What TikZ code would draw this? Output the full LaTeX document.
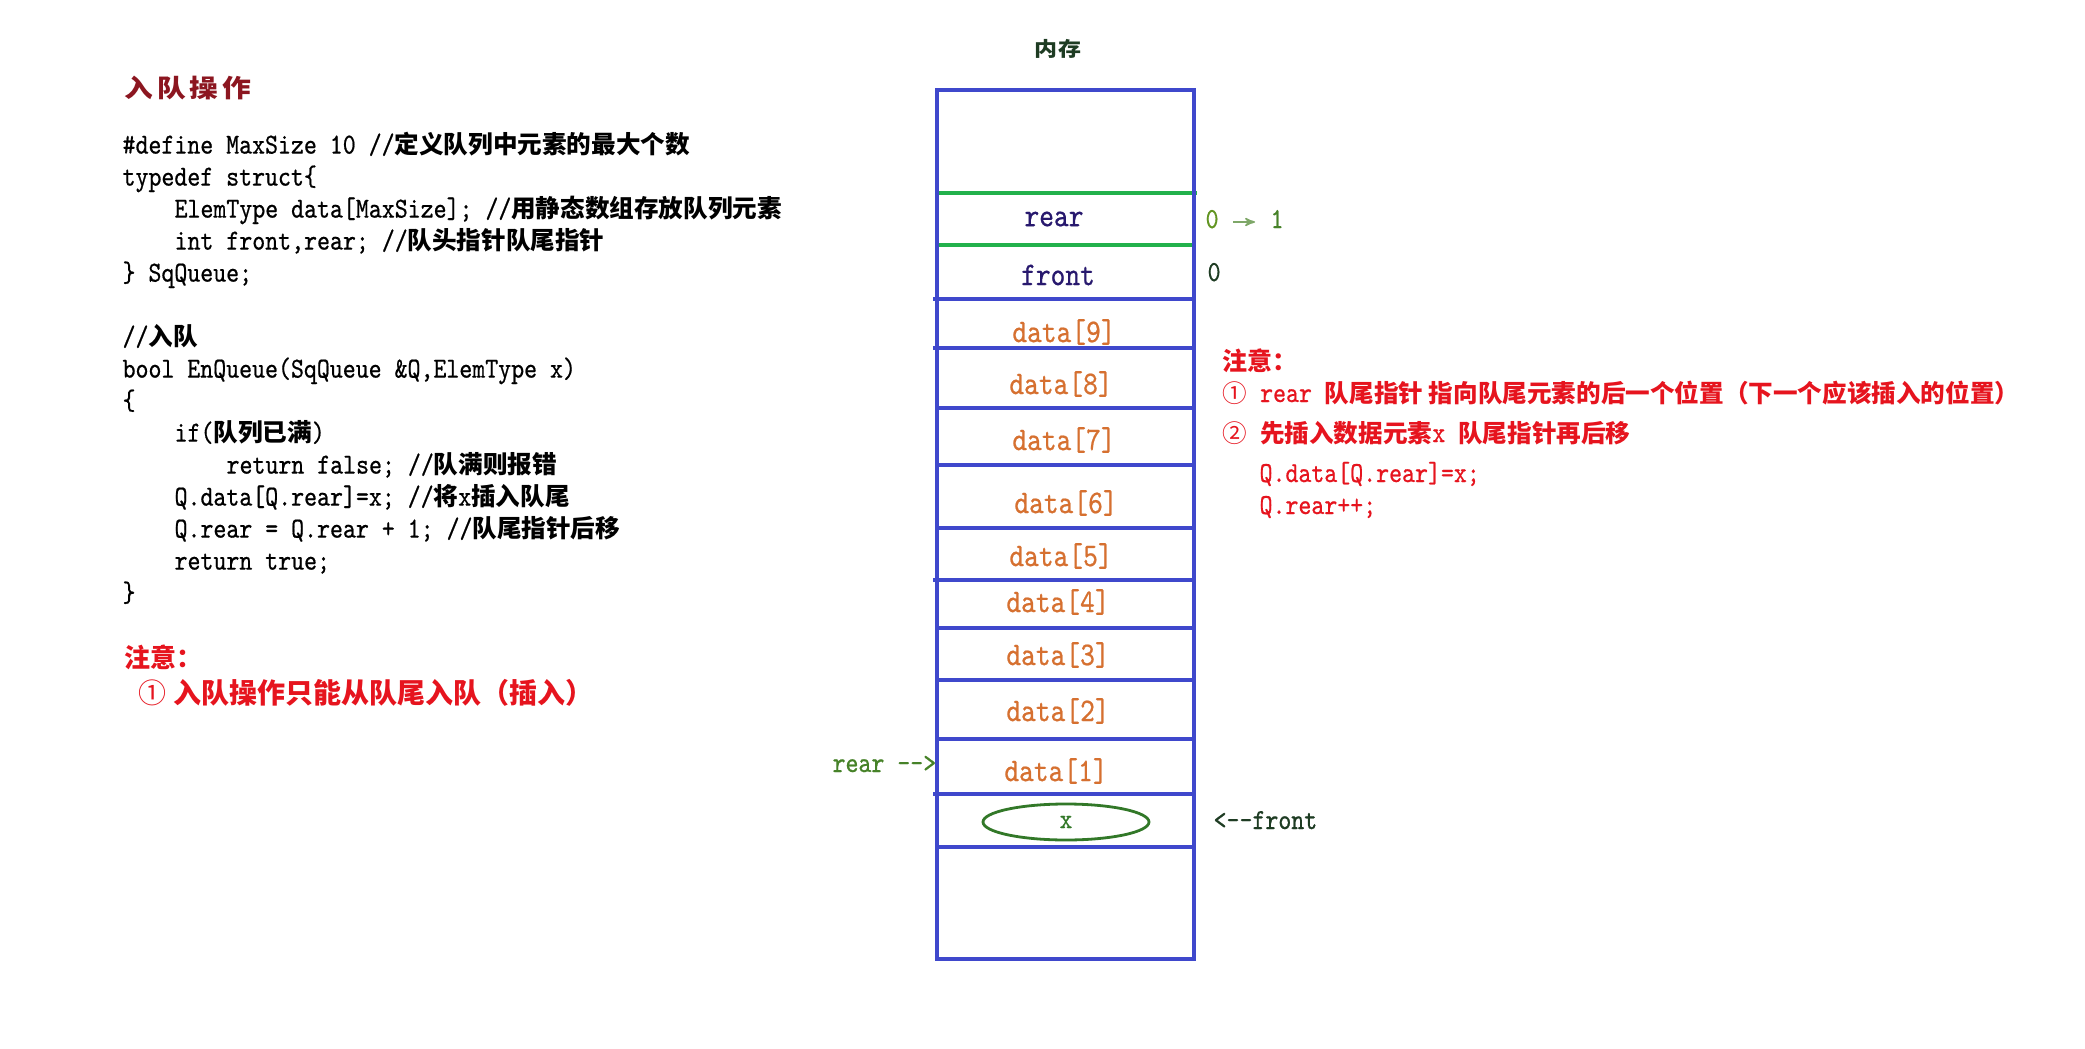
\documentclass[tikz,border=0pt]{standalone}
\usepackage{fontspec}
\usepackage{tikz}
\usetikzlibrary{arrows,shapes.geometric,positioning}
\newfontfamily\cjk{Noto Sans CJK SC}
\newfontfamily\codett{lmmono10-regular}[Extension=.otf,FakeStretch=0.85,Scale=1.18,FakeBold=0.6]
\newcommand{\zhb}[1]{{\cjk\bfseries #1}}
\definecolor{titlered}{RGB}{140,22,32}
\definecolor{notered}{RGB}{230,20,30}
\definecolor{memblue}{RGB}{63,72,204}
\definecolor{memgreen}{RGB}{34,177,76}
\definecolor{ptrink}{RGB}{40,25,110}
\definecolor{dataorange}{RGB}{214,112,48}
\definecolor{markgreen}{RGB}{70,130,40}
\definecolor{darkgreen}{RGB}{30,60,35}
\definecolor{ovalgreen}{RGB}{50,120,40}

\begin{document}
\begin{tikzpicture}[x=0.5pt,y=-0.5pt,>=stealth',semithick]
\tikzstyle{code}=[anchor=west,inner sep=0pt,font=\fontsize{12.3pt}{14pt}\codett,text height=9pt,text depth=3pt]
\tikzstyle{note}=[code,text=notered]
\tikzstyle{cell}=[inner sep=0pt,font=\fontsize{14pt}{16pt}\codett]
\tikzstyle{sep}=[draw=memblue,line width=1.6pt]
\tikzstyle{greensep}=[draw=memgreen,line width=1.6pt]

\useasboundingbox (0,0) rectangle (2085,1049);
\fill[white] (0,0) rectangle (2085,1049);

        % left: code
        \node[anchor=west,inner sep=0pt,text=titlered,font=\fontsize{12.5pt}{14pt}\cjk\bfseries\addfontfeature{FakeStretch=1.15,LetterSpace=15}] (title) at (124,88) {入队操作};

        \node[code] (l1)  at (122,147.6) {\#define MaxSize 10 //\zhb{定义队列中元素的最大个数}};
        \node[code] (l2)  at (122,179.6) {typedef struct\{};
        \node[code] (l3)  at (174,211.6) {ElemType data[MaxSize]; //\zhb{用静态数组存放队列元素}};
        \node[code] (l4)  at (174,243.6) {int front,rear; //\zhb{队头指针队尾指针}};
        \node[code] (l5)  at (122,275.6) {\} SqQueue;};

        \node[code] (l6)  at (122,339.6) {//\zhb{入队}};
        \node[code] (l7)  at (122,371.6) {bool EnQueue(SqQueue \&Q,ElemType x)};
        \node[code] (l8)  at (122,403.6) {\{};
        \node[code] (l9)  at (174,435.6) {if(\zhb{队列已满})};
        \node[code] (l10) at (226,467.6) {return false; //\zhb{队满则报错}};
        \node[code] (l11) at (174,499.6) {Q.data[Q.rear]=x; //\zhb{将}x\zhb{插入队尾}};
        \node[code] (l12) at (174,531.6) {Q.rear = Q.rear + 1; //\zhb{队尾指针后移}};
        \node[code] (l13) at (174,563.6) {return true;};
        \node[code] (l14) at (122,595.6) {\}};

        \node[note,font=\fontsize{13pt}{15pt}\cjk\bfseries] (tipL)  at (124,661) {注意：};
        \node[note,font=\fontsize{14pt}{16pt}\cjk\bfseries] (tipL1) at (138,697) {{\mdseries ①} 入队操作只能从队尾入队（插入）};

        % memory
        \node[inner sep=0pt,text=darkgreen,font=\fontsize{10pt}{12pt}\cjk\bfseries\addfontfeature{FakeStretch=1.15,LetterSpace=5}] (mem) at (1058,49) {内存};

        \draw[greensep] (937,193) -- (1197,193);
        \draw[greensep] (937,245) -- (1194,245);
        \draw[sep] (937,90) rectangle (1194,959);
        \draw[sep] (933,299) -- (1194,299);
        \draw[sep] (933,348) -- (1194,348);
        \draw[sep] (937,408) -- (1194,408);
        \draw[sep] (937,465) -- (1194,465);
        \draw[sep] (937,528) -- (1194,528);
        \draw[sep] (933,580) -- (1194,580);
        \draw[sep] (937,628) -- (1194,628);
        \draw[sep] (937,680) -- (1194,680);
        \draw[sep] (937,739) -- (1194,739);
        \draw[sep] (933,794) -- (1194,794);
        \draw[sep] (937,847) -- (1194,847);

        \node[cell,text=ptrink]     (rear)  at (1054,219) {rear};
        \node[cell,text=ptrink]     (front) at (1058,275) {front};
        \node[cell,text=dataorange] (d9)    at (1064,332) {data[9]};
        \node[cell,text=dataorange] (d8)    at (1061,384) {data[8]};
        \node[cell,text=dataorange] (d7)    at (1064,440) {data[7]};
        \node[cell,text=dataorange] (d6)    at (1066,503) {data[6]};
        \node[cell,text=dataorange] (d5)    at (1061,556) {data[5]};
        \node[cell,text=dataorange] (d4)    at (1058,602) {data[4]};
        \node[cell,text=dataorange] (d3)    at (1058,655) {data[3]};
        \node[cell,text=dataorange] (d2)    at (1058,711) {data[2]};
        \node[cell,text=dataorange] (d1)    at (1056,771) {data[1]};
        \node[ellipse,draw=ovalgreen,line width=1.4pt,minimum width=83pt,minimum height=18pt,inner sep=0pt,
              text=ovalgreen,font=\fontsize{12pt}{14pt}\codett] (x) at (1066,822) {x};

        % pointers
        \node[code,text=markgreen!85!yellow] (rold) at (1205,222) {0};
        \node[code,text=markgreen]           (rnew) at (1270,222) {1};
        \node[code,text=darkgreen]           (fval) at (1207,275) {0};
        \node[code,text=markgreen]  (rearptr)  at (832,766)  {rear -{}->};
        \node[code,text=darkgreen]  (frontptr) at (1213,823) {<-{}-front};

        \path[->]
        (rold) edge[draw=markgreen!70,line width=0.8pt,shorten <=7pt,shorten >=7.5pt] (rnew)
        ; %end path

        % right notes
        \node[note,font=\fontsize{12.5pt}{14pt}\cjk\bfseries] (tipR) at (1222,364) {注意：};
        \node[note] (tipR1) at (1222,396) {{\cjk ①} rear \zhb{队尾指针 指向队尾元素的后一个位置（下一个应该插入的位置）}};
        \node[note] (tipR2) at (1222,436) {{\cjk ②} \zhb{先插入数据元素}x \zhb{队尾指针再后移}};
        \node[note] (tipR3) at (1259,476) {Q.data[Q.rear]=x;};
        \node[note] (tipR4) at (1259,508) {Q.rear++;};
\end{tikzpicture}
\end{document}
